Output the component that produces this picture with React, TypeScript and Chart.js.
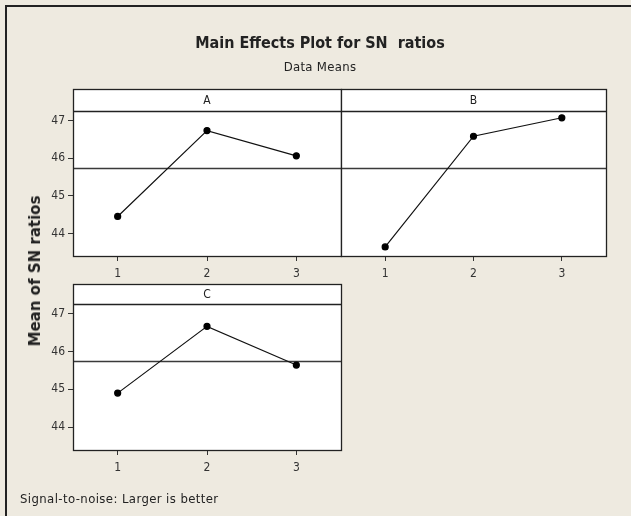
import React, { useEffect, useRef } from 'react';
import { Chart, registerables } from 'chart.js';

Chart.register(...registerables);

// ---- data ----
const LEVELS = [1, 2, 3];
const FACTORS = ['A', 'B', 'C'];
const MEANS_A = [44.45, 46.73, 46.06];
const MEANS_B = [43.64, 46.58, 47.07];
const MEANS_C = [44.9, 46.66, 45.64];
const Y_TICKS = [44, 45, 46, 47];
const GRAND_MEAN = 45.74;
const Y_MIN = 43.4;
const Y_MAX = 47.25;
const X_MIN = 0.5;
const X_MAX = 3.5;
const TITLE = 'Main Effects Plot for SN  ratios';
const SUBTITLE = 'Data Means';
const Y_LABEL = 'Mean of SN ratios';
const FOOTER = 'Signal-to-noise: Larger is better';

const W = 631;
const H = 516;
const BG = '#eeeae0';
const TICK_FONT = { family: '"DejaVu Sans Condensed", "DejaVu Sans", sans-serif', size: 12 };

type PanelDef = {
  factor: string;
  values: number[];
  left: number;
  right: number;
  top: number;
  bottom: number;
  header: number;
  yLabels: boolean;
};

const PANELS: PanelDef[] = [
  { factor: FACTORS[0], values: MEANS_A, left: 73, right: 341, top: 111, bottom: 256, header: 22, yLabels: true },
  { factor: FACTORS[1], values: MEANS_B, left: 341, right: 606, top: 111, bottom: 256, header: 22, yLabels: false },
  { factor: FACTORS[2], values: MEANS_C, left: 73, right: 341, top: 304, bottom: 450, header: 20, yLabels: true },
];

const X_AXIS_H = 30;

function makeFramePlugin(p: PanelDef) {
  return {
    id: 'panelFrame',
    beforeDraw(chart: any) {
      const { ctx, chartArea: a } = chart;
      ctx.save();
      ctx.fillStyle = '#ffffff';
      ctx.fillRect(a.left, a.top - p.header, a.right - a.left, a.bottom - a.top + p.header);
      ctx.restore();
    },
    beforeDatasetsDraw(chart: any) {
      const { ctx, chartArea: a, scales } = chart;
      const y = Math.round(scales.y.getPixelForValue(GRAND_MEAN)) + 0.5;
      ctx.save();
      ctx.strokeStyle = '#3a3a3a';
      ctx.lineWidth = 1.3;
      ctx.beginPath();
      ctx.moveTo(a.left, y);
      ctx.lineTo(a.right, y);
      ctx.stroke();
      ctx.restore();
    },
    afterDraw(chart: any) {
      const { ctx, chartArea: a } = chart;
      ctx.save();
      ctx.strokeStyle = '#222';
      ctx.lineWidth = 1.3;
      ctx.strokeRect(a.left + 0.5, a.top - p.header + 0.5, a.right - a.left, a.bottom - a.top + p.header);
      ctx.beginPath();
      ctx.moveTo(a.left, a.top + 0.5);
      ctx.lineTo(a.right, a.top + 0.5);
      ctx.stroke();
      ctx.fillStyle = '#222';
      ctx.font = `12px ${TICK_FONT.family}`;
      ctx.textAlign = 'center';
      ctx.textBaseline = 'middle';
      ctx.fillText(p.factor, (a.left + a.right) / 2, a.top - p.header / 2 + 1);
      ctx.restore();
    },
  };
}

function Panel({ p }: { p: PanelDef }) {
  const ref = useRef<HTMLCanvasElement | null>(null);
  useEffect(() => {
    if (!ref.current) return;
    const chart = new Chart(ref.current, {
      type: 'line',
      data: {
        datasets: [
          {
            data: LEVELS.map((lv, i) => ({ x: lv, y: p.values[i] })),
            borderColor: '#111',
            borderWidth: 1.2,
            pointRadius: 3,
            pointBackgroundColor: '#000',
            pointBorderColor: '#000',
            tension: 0,
          },
        ],
      },
      options: {
        animation: false,
        responsive: false,
        events: [],
        layout: {
          padding: {
            left: p.yLabels ? 0 : p.left,
            top: p.top,
            right: W - p.right,
            bottom: H - p.bottom - X_AXIS_H,
          },
        },
        plugins: { legend: { display: false }, tooltip: { enabled: false }, title: { display: false } },
        scales: {
          x: {
            type: 'linear',
            min: X_MIN,
            max: X_MAX,
            afterBuildTicks: (s: any) => {
              s.ticks = LEVELS.map((v) => ({ value: v }));
            },
            afterFit: (s: any) => {
              s.height = X_AXIS_H;
            },
            grid: { display: true, drawOnChartArea: false, drawTicks: true, tickLength: 5, color: '#333' },
            border: { display: false },
            ticks: { font: TICK_FONT, color: '#333', padding: 6, maxRotation: 0, autoSkip: false, callback: (v: any) => String(v) },
          },
          y: {
            type: 'linear',
            display: p.yLabels,
            min: Y_MIN,
            max: Y_MAX,
            afterBuildTicks: (s: any) => {
              s.ticks = Y_TICKS.map((v) => ({ value: v }));
            },
            afterFit: (s: any) => {
              s.width = p.yLabels ? p.left : 0;
            },
            grid: { display: true, drawOnChartArea: false, drawTicks: true, tickLength: 5, color: '#333' },
            border: { display: false },
            ticks: { font: TICK_FONT, color: '#333', padding: 3, callback: (v: any) => String(v) },
          },
        },
      },
      plugins: [makeFramePlugin(p)],
    });
    return () => chart.destroy();
  }, [p]);
  return (
    <canvas
      ref={ref}
      width={W}
      height={H}
      style={{ position: 'absolute', left: 0, top: 0, width: W, height: H }}
    />
  );
}

export default function App() {
  return (
    <div
      style={{
        position: 'fixed',
        left: 0,
        top: 0,
        width: W,
        height: H,
        background: BG,
        overflow: 'hidden',
        fontFamily: '"DejaVu Sans Condensed", "DejaVu Sans", sans-serif',
        color: '#222',
      }}
    >
      <div style={{ position: 'absolute', left: 5, top: 5, width: W - 5, height: 2, background: '#222' }} />
      <div style={{ position: 'absolute', left: 5, top: 5, width: 2, height: H - 5, background: '#222' }} />
      {PANELS.map((p) => (
        <Panel key={p.factor} p={p} />
      ))}
      <div
        style={{
          position: 'absolute',
          left: 0,
          width: 640,
          top: 32,
          textAlign: 'center',
          fontFamily: '"DejaVu Sans Condensed", "DejaVu Sans", sans-serif',
          fontWeight: 'bold',
          fontSize: 16,
          lineHeight: '22px',
          whiteSpace: 'pre',
        }}
      >
        {TITLE}
      </div>
      <div
        style={{
          position: 'absolute',
          left: 0,
          width: 640,
          top: 58,
          textAlign: 'center',
          fontSize: 13,
          letterSpacing: 0.3,
          lineHeight: '18px',
          whiteSpace: 'nowrap',
        }}
      >
        {SUBTITLE}
      </div>
      <div
        style={{
          position: 'absolute',
          left: 35,
          top: 271,
          transform: 'translate(-50%, -50%) rotate(-90deg)',
          fontFamily: '"DejaVu Sans", sans-serif',
          fontWeight: 'bold',
          fontSize: 15,
          whiteSpace: 'nowrap',
          lineHeight: '18px',
        }}
      >
        {Y_LABEL}
      </div>
      <div
        style={{
          position: 'absolute',
          left: 20,
          top: 490,
          fontSize: 13,
          letterSpacing: 0.4,
          lineHeight: '18px',
          whiteSpace: 'nowrap',
        }}
      >
        {FOOTER}
      </div>
    </div>
  );
}
